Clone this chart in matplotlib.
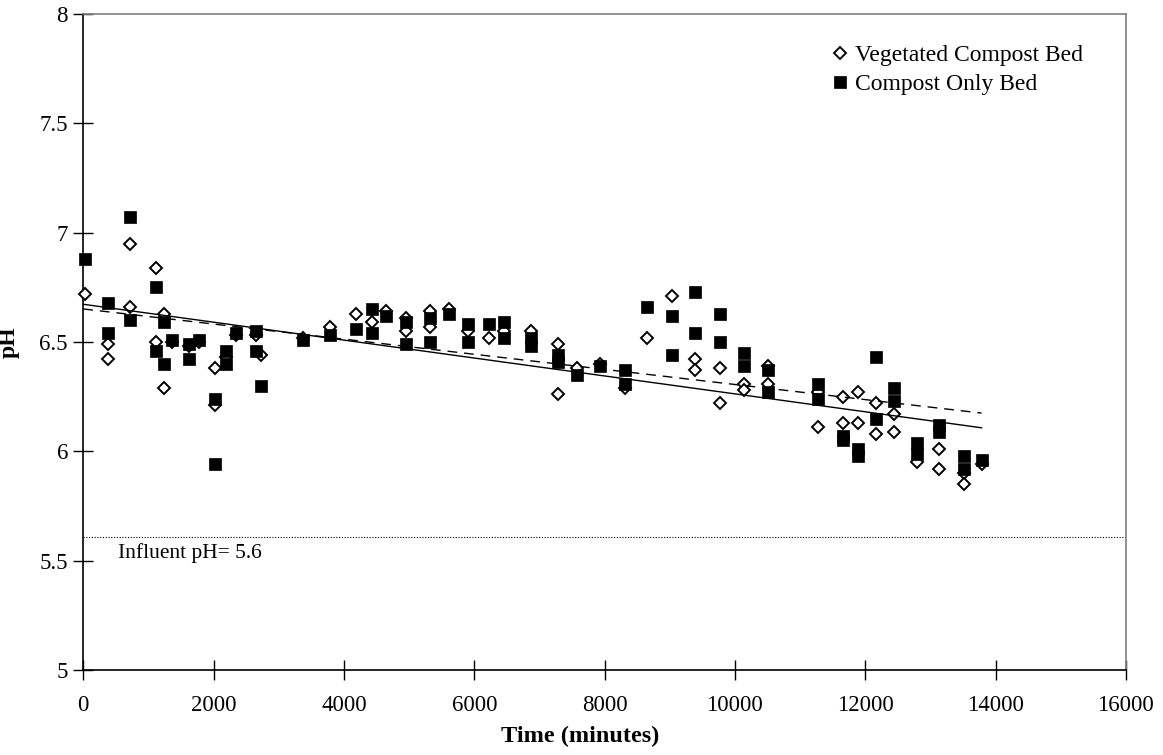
import numpy as np
import matplotlib
matplotlib.use("Agg")
import matplotlib.pyplot as plt

plt.rcParams['font.family'] = ['Liberation Serif', 'DejaVu Serif']

# Vegetated Compost Bed (open diamonds)
veg_time = [30, 380, 380, 720, 720, 1120, 1120, 1240, 1240, 1360, 1620, 1770,
            2025, 2025, 2190, 2350, 2645, 2725, 3370, 3785, 4190, 4430, 4640,
            4950, 4950, 5315, 5315, 5610, 5905, 6220, 6450, 6865, 7285, 7285,
            7575, 7925, 8320, 8650, 9035, 9380, 9380, 9775, 9775, 10135, 10135,
            10515, 10515, 11275, 11275, 11655, 11655, 11895, 11895, 12170, 12170,
            12435, 12435, 12795, 13130, 13130, 13510, 13510, 13785]
veg_ph = [6.72, 6.49, 6.42, 6.95, 6.66, 6.84, 6.50, 6.63, 6.29, 6.50, 6.48, 6.50,
          6.38, 6.21, 6.43, 6.53, 6.53, 6.44, 6.52, 6.57, 6.63, 6.59, 6.64,
          6.61, 6.55, 6.64, 6.57, 6.65, 6.55, 6.52, 6.55, 6.55, 6.49, 6.26,
          6.38, 6.40, 6.29, 6.52, 6.71, 6.42, 6.37, 6.38, 6.22, 6.31, 6.28,
          6.39, 6.31, 6.27, 6.11, 6.25, 6.13, 6.27, 6.13, 6.22, 6.08,
          6.17, 6.09, 5.95, 6.01, 5.92, 5.90, 5.85, 5.94]

# Compost Only Bed (filled squares)
comp_time = [30, 380, 380, 720, 720, 1120, 1120, 1240, 1240, 1360, 1620, 1620, 1770,
             2025, 2025, 2190, 2190, 2350, 2645, 2645, 2725, 3370, 3785, 4190,
             4430, 4430, 4640, 4950, 4950, 5315, 5315, 5610, 5905, 5905, 6220,
             6450, 6450, 6865, 6865, 7285, 7285, 7575, 7925, 8320, 8320, 8650,
             9035, 9035, 9380, 9380, 9775, 9775, 10135, 10135, 10515, 10515,
             11275, 11275, 11655, 11655, 11895, 11895, 12170, 12170, 12435, 12435,
             12795, 12795, 13130, 13130, 13510, 13510, 13785]
comp_ph = [6.88, 6.68, 6.54, 7.07, 6.60, 6.75, 6.46, 6.59, 6.40, 6.51, 6.49, 6.42, 6.51,
           6.24, 5.94, 6.46, 6.40, 6.54, 6.55, 6.46, 6.30, 6.51, 6.53, 6.56,
           6.65, 6.54, 6.62, 6.59, 6.49, 6.61, 6.50, 6.63, 6.58, 6.50, 6.58,
           6.59, 6.52, 6.52, 6.48, 6.44, 6.41, 6.35, 6.39, 6.37, 6.31, 6.66,
           6.62, 6.44, 6.73, 6.54, 6.63, 6.50, 6.45, 6.39, 6.37, 6.27,
           6.31, 6.24, 6.07, 6.05, 6.01, 5.98, 6.43, 6.15, 6.29, 6.23,
           6.04, 5.99, 6.12, 6.09, 5.98, 5.92, 5.96]

influent_ph = 5.61
influent_label = "Influent pH= 5.6"
labels = ["Vegetated Compost Bed", "Compost Only Bed"]
x_ticks = [0, 2000, 4000, 6000, 8000, 10000, 12000, 14000, 16000]
y_ticks = [5, 5.5, 6, 6.5, 7, 7.5, 8]
y_ticklabels = ["5", "5.5", "6", "6.5", "7", "7.5", "8"]

fig = plt.figure(figsize=(11.63, 7.55), dpi=100)
ax = fig.add_axes([0.0716, 0.1126, 0.8965, 0.8689])

ax.plot(veg_time, veg_ph, linestyle='none', marker='D', markersize=6.4,
        markerfacecolor='white', markeredgecolor='black', markeredgewidth=1.4,
        label=labels[0], zorder=3, clip_on=False)
ax.plot(comp_time, comp_ph, linestyle='none', marker='s', markersize=8.6,
        markerfacecolor='black', markeredgecolor='black', markeredgewidth=0.5,
        label=labels[1], zorder=4, clip_on=False)

# linear trend lines (solid: vegetated, dashed: compost only)
vx = np.array(veg_time, float); vy = np.array(veg_ph, float)
cx = np.array(comp_time, float); cy = np.array(comp_ph, float)
pv = np.polyfit(vx, vy, 1)
pc = np.polyfit(cx, cy, 1)
xs_v = np.array([0, vx.max()])
xs_c = np.array([0, cx.max()])
ax.plot(xs_v, np.polyval(pv, xs_v), color='black', linestyle='-', linewidth=1.0, zorder=5)
ax.plot(xs_c, np.polyval(pc, xs_c), color='black', linestyle=(0, (7, 5)), linewidth=1.0, zorder=5)

# influent line
ax.axhline(influent_ph, color='black', linestyle=(0, (1, 1.5)), linewidth=0.8, zorder=2)
ax.text(530, influent_ph - 0.03, influent_label, ha='left', va='top', fontsize=15.5)

ax.set_xlim(0, 16000)
ax.set_ylim(5, 8)
ax.set_xticks(x_ticks)
ax.set_xticklabels([str(t) for t in x_ticks])
ax.set_yticks(y_ticks)
ax.set_yticklabels(y_ticklabels)
ax.tick_params(direction='inout', length=14, width=1.0, labelsize=16.5, color='black')
ax.tick_params(axis='x', pad=11)
ax.tick_params(axis='y', pad=4)

for side in ['left', 'bottom']:
    ax.spines[side].set_color('black')
    ax.spines[side].set_linewidth(1.2)
for side in ['top', 'right']:
    ax.spines[side].set_color('#808080')
    ax.spines[side].set_linewidth(1.2)

ax.set_xlabel("Time (minutes)", fontsize=17.5, fontweight='bold', labelpad=8)
ax.xaxis.set_label_coords(0.477, -0.085)
ax.set_ylabel("pH", fontsize=17, fontweight='bold', labelpad=14)

leg = ax.legend(loc='upper right', bbox_to_anchor=(0.975, 0.978), frameon=False,
                fontsize=17, handletextpad=0.25, handlelength=0.8, borderaxespad=0.3,
                labelspacing=0.3)

fig.savefig("out.png", dpi=100)
